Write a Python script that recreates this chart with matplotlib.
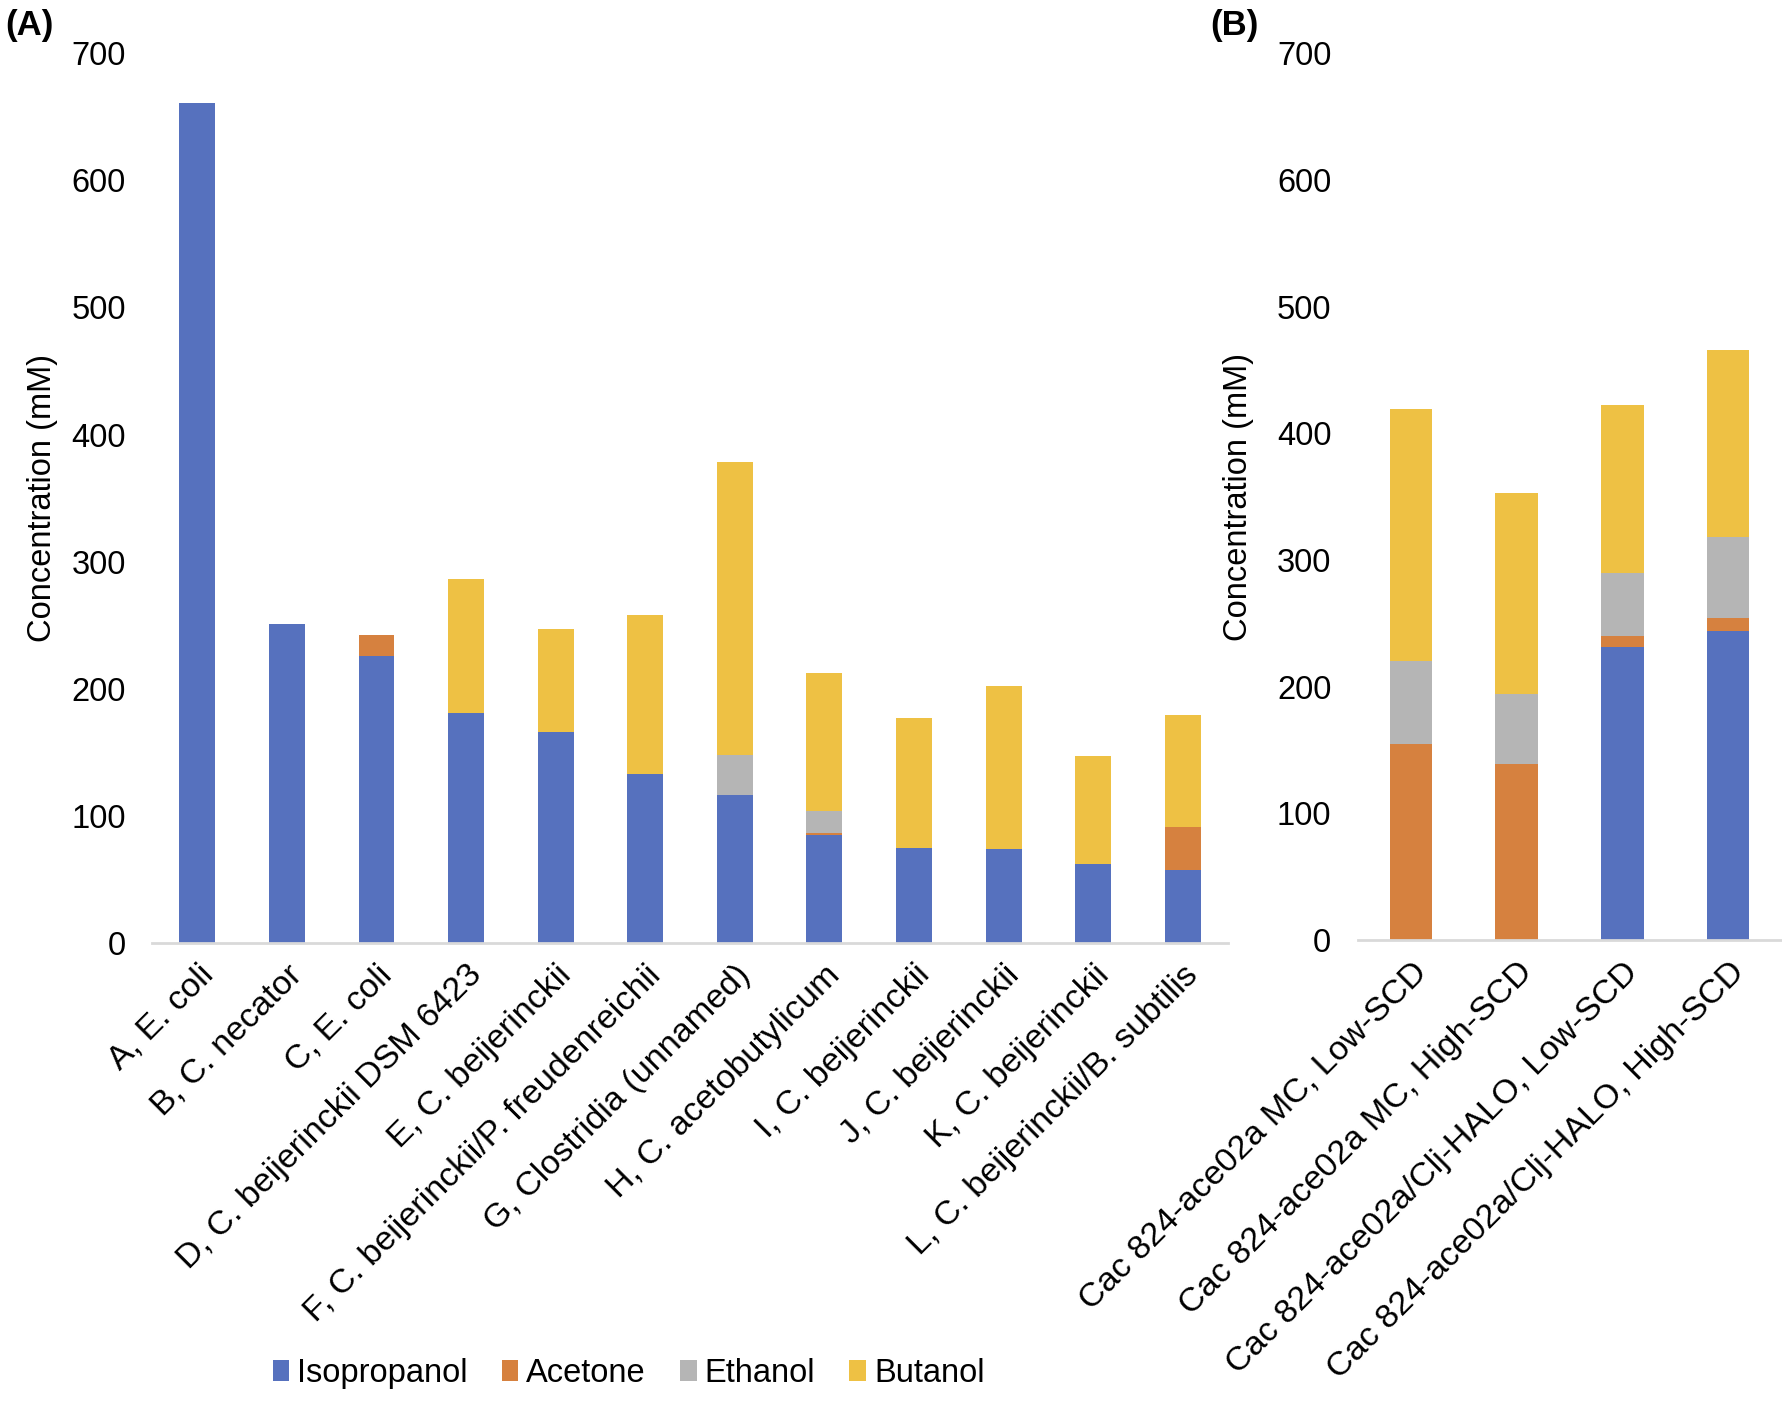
import matplotlib
matplotlib.use("Agg")
import matplotlib.pyplot as plt
import numpy as np
from matplotlib.patches import Patch

plt.rcParams["font.family"] = ["Liberation Sans", "DejaVu Sans"]

SERIES = ["Isopropanol", "Acetone", "Ethanol", "Butanol"]
COLORS = ["#5671BE", "#D6813F", "#B5B5B5", "#EEC144"]

# panel A
cats_a = [
    "A, E. coli",
    "B, C. necator",
    "C, E. coli",
    "D, C. beijerinckii DSM 6423",
    "E, C. beijerinckii",
    "F, C. beijerinckii/P. freudenreichii",
    "G, Clostridia (unnamed)",
    "H, C. acetobutylicum",
    "I, C. beijerinckii",
    "J, C. beijerinckii",
    "K, C. beijerinckii",
    "L, C. beijerinckii/B. subtilis",
]
iso_a = [661, 251, 226, 181, 166, 133, 116, 85, 75, 74, 62, 57]
ace_a = [0, 0, 16, 0, 0, 0, 0, 1.5, 0, 0, 0, 34]
eth_a = [0, 0, 0, 0, 0, 0, 32, 17.5, 0, 0, 0, 0]
but_a = [0, 0, 0, 105, 81, 125, 230, 108, 102, 128, 85, 88]

# panel B
cats_b = [
    "Cac 824-ace02a MC, Low-SCD",
    "Cac 824-ace02a MC, High-SCD",
    "Cac 824-ace02a/Clj-HALO, Low-SCD",
    "Cac 824-ace02a/Clj-HALO, High-SCD",
]
iso_b = [0, 0, 231, 244]
ace_b = [155, 139, 9, 10]
eth_b = [65, 55, 50, 64]
but_b = [199, 159, 132, 148]

TICK_SIZE = 23.5
CAT_SIZE = 24.5
AXIS_GREY = "#D9D9D9"


def stacked(ax, cats, layers):
    x = np.arange(len(cats))
    bottom = np.zeros(len(cats))
    for vals, color in zip(layers, COLORS):
        vals = np.array(vals, dtype=float)
        ax.bar(x, vals, width=0.4, bottom=bottom, color=color, linewidth=0, zorder=2)
        bottom += vals
    ax.set_xlim(-0.5, len(cats) - 0.5)
    ax.set_ylim(0, 700)
    ax.set_yticks(range(0, 701, 100))
    ax.set_xticks(x)
    ax.set_xticklabels(cats, rotation=45, ha="right", rotation_mode="anchor")
    for side in ("top", "right", "left"):
        ax.spines[side].set_visible(False)
    ax.spines["bottom"].set_color(AXIS_GREY)
    ax.spines["bottom"].set_linewidth(2)
    ax.tick_params(axis="y", length=0, pad=19, labelsize=TICK_SIZE)
    ax.tick_params(axis="x", length=0, pad=12, labelsize=CAT_SIZE)
    ax.set_ylabel("Concentration (mM)", fontsize=TICK_SIZE)


fig = plt.figure(figsize=(17.83, 14.03), dpi=100)
fig.patch.set_facecolor("white")

ax_a = fig.add_axes([0.0855, 0.328, 0.603, 0.634])
stacked(ax_a, cats_a, [iso_a, ace_a, eth_a, but_a])
ax_a.yaxis.set_label_coords(-0.088, 0.5)

ax_b = fig.add_axes([0.7615, 0.330, 0.2375, 0.632])
stacked(ax_b, cats_b, [iso_b, ace_b, eth_b, but_b])
ax_b.yaxis.set_label_coords(-0.245, 0.5)

fig.text(0.003, 0.982, "(A)", fontsize=25, weight="bold", ha="left", va="center")
fig.text(0.679, 0.982, "(B)", fontsize=25, weight="bold", ha="left", va="center")

handles = [Patch(facecolor=c, edgecolor="none") for c in COLORS]
fig.legend(
    handles,
    SERIES,
    loc="center",
    bbox_to_anchor=(0.3525, 0.021),
    ncol=4,
    frameon=False,
    fontsize=TICK_SIZE,
    handlelength=0.5,
    handleheight=0.6,
    handletextpad=0.25,
    columnspacing=1.05,
)

fig.savefig("out.png", dpi=100, facecolor="white")
